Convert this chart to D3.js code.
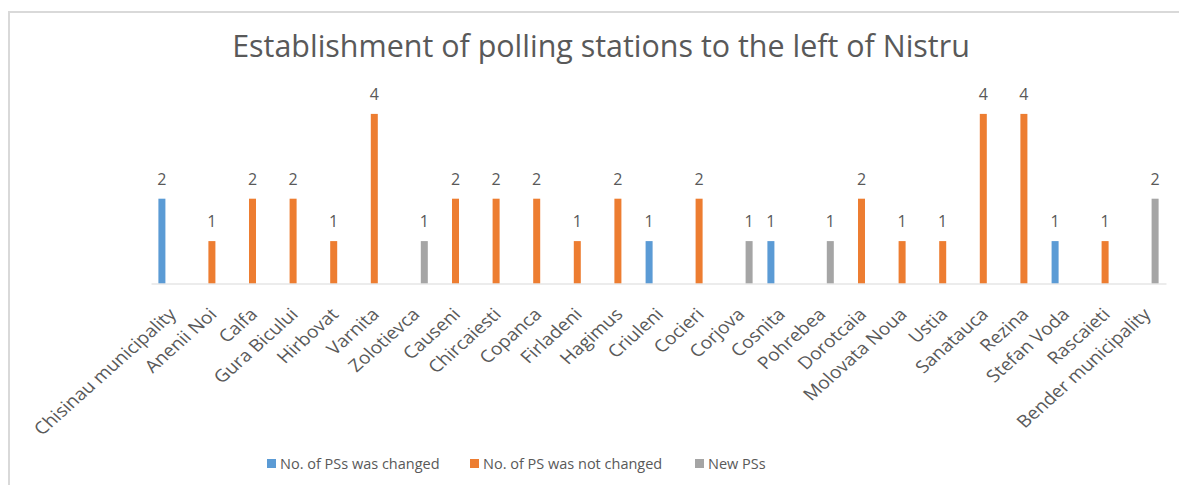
<!DOCTYPE html>
<html>
<head>
<meta charset="utf-8">
<script src="https://cdn.jsdelivr.net/npm/d3@7"></script>
<style>
  html, body { margin: 0; padding: 0; background: #fff; }
  svg { display: block; font-family: "Open Sans", "DejaVu Sans", sans-serif; }
</style>
</head>
<body>
<svg id="chart" width="1179" height="485"></svg>
<script>
// Districts / localities on the x axis
const categories = [
  "Chisinau municipality", "Anenii Noi", "Calfa", "Gura Bicului", "Hirbovat",
  "Varnita", "Zolotievca", "Causeni", "Chircaiesti", "Copanca", "Firladeni",
  "Hagimus", "Criuleni", "Cocieri", "Corjova", "Cosnita", "Pohrebea",
  "Dorotcaia", "Molovata Noua", "Ustia", "Sanatauca", "Rezina", "Stefan Voda",
  "Rascaieti", "Bender municipality"
];

// Series names (legend order)
const seriesNames = ["No. of PSs was changed", "No. of PS was not changed", "New PSs"];
const seriesColors = ["#5b9bd5", "#ed7d31", "#a5a5a5"];

// Values per series, aligned with categories (null = no bar)
const changed    = [2, null, null, null, null, null, null, null, null, null, null, null, 1, null, null, 1, null, null, null, null, null, null, 1, null, null];
const notChanged = [null, 1, 2, 2, 1, 4, null, 2, 2, 2, 1, 2, null, 2, null, null, null, 2, 1, 1, 4, 4, null, 1, null];
const newPS      = [null, null, null, null, null, null, 1, null, null, null, null, null, null, null, 1, null, 1, null, null, null, null, null, null, null, 2];

const seriesValues = [changed, notChanged, newPS];

const title = "Establishment of polling stations to the left of Nistru";

const svg = d3.select("#chart");
const textColor = "#595959";

// Outer frame of the chart area
svg.append("rect")
  .attr("x", 9).attr("y", 12)
  .attr("width", 1200).attr("height", 500)
  .attr("fill", "none")
  .attr("stroke", "#d9d9d9")
  .attr("stroke-width", 2);

// Scales
const x0 = d3.scaleBand().domain(categories).range([151, 1166]).padding(0);
const x1 = d3.scaleBand().domain(d3.range(seriesNames.length))
  .range([0, x0.bandwidth()])
  .paddingInner(0.255)
  .paddingOuter(0.787);
const y = d3.scaleLinear().domain([0, 5]).range([283.5, 283.5 - 5 * 42.4]);

// Title
const titleText = svg.append("text")
  .attr("x", 601).attr("y", 57)
  .attr("text-anchor", "middle")
  .attr("fill", textColor)
  .style("font-size", "23px")
  .text(title);
{
  const w = titleText.node().getComputedTextLength();
  titleText.style("font-size", (23 * 738 / w).toFixed(2) + "px");
}

// Bars and data labels
const flat = [];
seriesValues.forEach((vals, si) => {
  vals.forEach((v, ci) => {
    if (v != null) flat.push({ cat: categories[ci], s: si, v });
  });
});

const g = svg.append("g");
g.selectAll("rect.bar")
  .data(flat)
  .join("rect")
  .attr("class", "bar")
  .attr("x", d => x0(d.cat) + x1(d.s))
  .attr("width", x1.bandwidth())
  .attr("y", d => y(d.v))
  .attr("height", d => y(0) - y(d.v))
  .attr("fill", d => seriesColors[d.s]);

g.selectAll("text.val")
  .data(flat)
  .join("text")
  .attr("class", "val")
  .attr("x", d => x0(d.cat) + x1(d.s) + x1.bandwidth() / 2)
  .attr("y", d => y(d.v) - 14)
  .attr("text-anchor", "middle")
  .attr("fill", textColor)
  .style("font-size", "16px")
  .text(d => d.v);

// Category axis (labels slanted, slightly widened)
const xAxis = svg.append("g")
  .attr("transform", `translate(0,${y(0)})`)
  .call(d3.axisBottom(x0).tickSize(0).tickSizeOuter(0));
xAxis.select(".domain").attr("stroke", "#d9d9d9").attr("stroke-width", 1.2);
xAxis.selectAll(".tick text")
  .attr("fill", textColor)
  .style("font-family", "'Open Sans', sans-serif")
  .style("font-size", "17.2px")
  .attr("text-anchor", "end")
  .attr("dy", null)
  .attr("y", 0)
  .attr("transform", "translate(6,32) scale(1.12,1) rotate(-45)");

// Legend
const legendX = [267, 470, 695];
const legend = svg.append("g");
seriesNames.forEach((name, i) => {
  legend.append("rect")
    .attr("x", legendX[i]).attr("y", 459)
    .attr("width", 9).attr("height", 9)
    .attr("fill", seriesColors[i]);
  legend.append("text")
    .attr("x", legendX[i] + 13).attr("y", 469)
    .attr("fill", textColor)
    .style("font-size", "14.5px")
    .text(name);
});
</script>
</body>
</html>
